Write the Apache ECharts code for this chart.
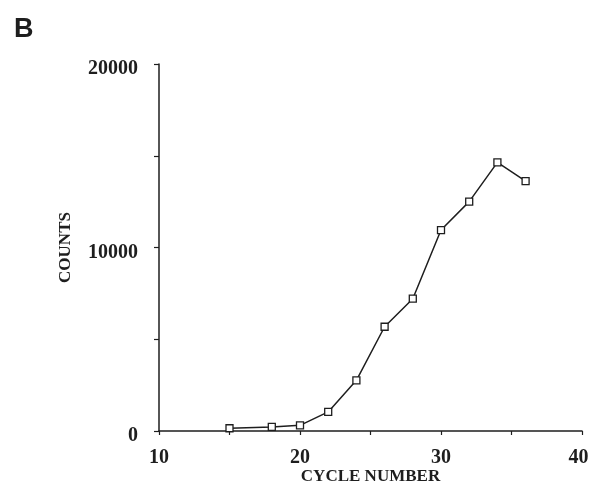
<!DOCTYPE html>
<html><head><meta charset="utf-8">
<script src="https://cdn.jsdelivr.net/npm/echarts@6/dist/echarts.min.js"></script>
<style>html,body{margin:0;padding:0;background:#fff;overflow:hidden}#c{width:590px;height:484px}</style>
</head><body><div id="c"></div>
<script>
const cycles = [15, 18, 20, 22, 24, 26, 28, 30, 32, 34, 36];
const counts = [150, 220, 310, 1040, 2760, 5680, 7210, 10950, 12500, 14640, 13620];
const xTicks = [10, 20, 30, 40];
const yTicks = [0, 10000, 20000];

const ink = '#1e1e1e';
const serif = '"Liberation Serif", "DejaVu Serif", serif';
const chart = echarts.init(document.getElementById('c'), null, {renderer: 'canvas'});
chart.setOption({
  backgroundColor: '#fff',
  animation: false,
  title: {text: 'B', left: 9, top: 11, textStyle: {fontFamily: '"Liberation Sans", Arial, sans-serif', fontWeight: 'bold', fontSize: 27, color: ink}},
  grid: {left: 159, right: 8, top: 64, bottom: 53, outerBoundsMode: 'none', containLabel: false},
  xAxis: {
    type: 'value', min: 10, max: 40, interval: 5,
    name: 'CYCLE NUMBER', nameLocation: 'middle', nameGap: 37, nameMoveOverlap: false,
    nameTextStyle: {fontFamily: serif, fontWeight: 'bold', fontSize: 17, color: ink},
    axisLine: {lineStyle: {color: ink, width: 1.5}},
    axisTick: {show: true, length: 4, inside: false, lineStyle: {color: ink, width: 1.2}},
    splitLine: {show: false},
    axisLabel: {margin: 17, fontFamily: serif, fontWeight: 'bold', fontSize: 20, color: ink,
      formatter: v => !xTicks.includes(v) ? '' : (v === 40 ? '{r|' + v + '}' : String(v)),
      rich: {r: {fontFamily: serif, fontWeight: 'bold', fontSize: 20, color: ink, padding: [0, 7, 0, 0]}}}
  },
  yAxis: {
    type: 'value', min: 0, max: 20000, interval: 5000,
    name: 'COUNTS', nameLocation: 'middle', nameGap: 85, nameRotate: 90, nameMoveOverlap: false,
    nameTextStyle: {fontFamily: serif, fontWeight: 'bold', fontSize: 17, color: ink},
    axisLine: {show: true, lineStyle: {color: ink, width: 1.5}},
    axisTick: {show: true, length: 5, inside: false, lineStyle: {color: ink, width: 1.2}},
    splitLine: {show: false},
    axisLabel: {margin: 21, color: ink,
      formatter: v => yTicks.includes(v) ? '{a|' + v + '}' : '',
      rich: {a: {fontFamily: serif, fontWeight: 'bold', fontSize: 20, color: ink, lineHeight: 30, verticalAlign: 'bottom'}}}
  },
  series: [{
    type: 'line',
    data: cycles.map((c, i) => [c, counts[i]]),
    symbol: 'rect', symbolSize: 7,
    lineStyle: {color: ink, width: 1.5},
    itemStyle: {color: '#fff', borderColor: ink, borderWidth: 1.3}
  }]
});
</script></body></html>
